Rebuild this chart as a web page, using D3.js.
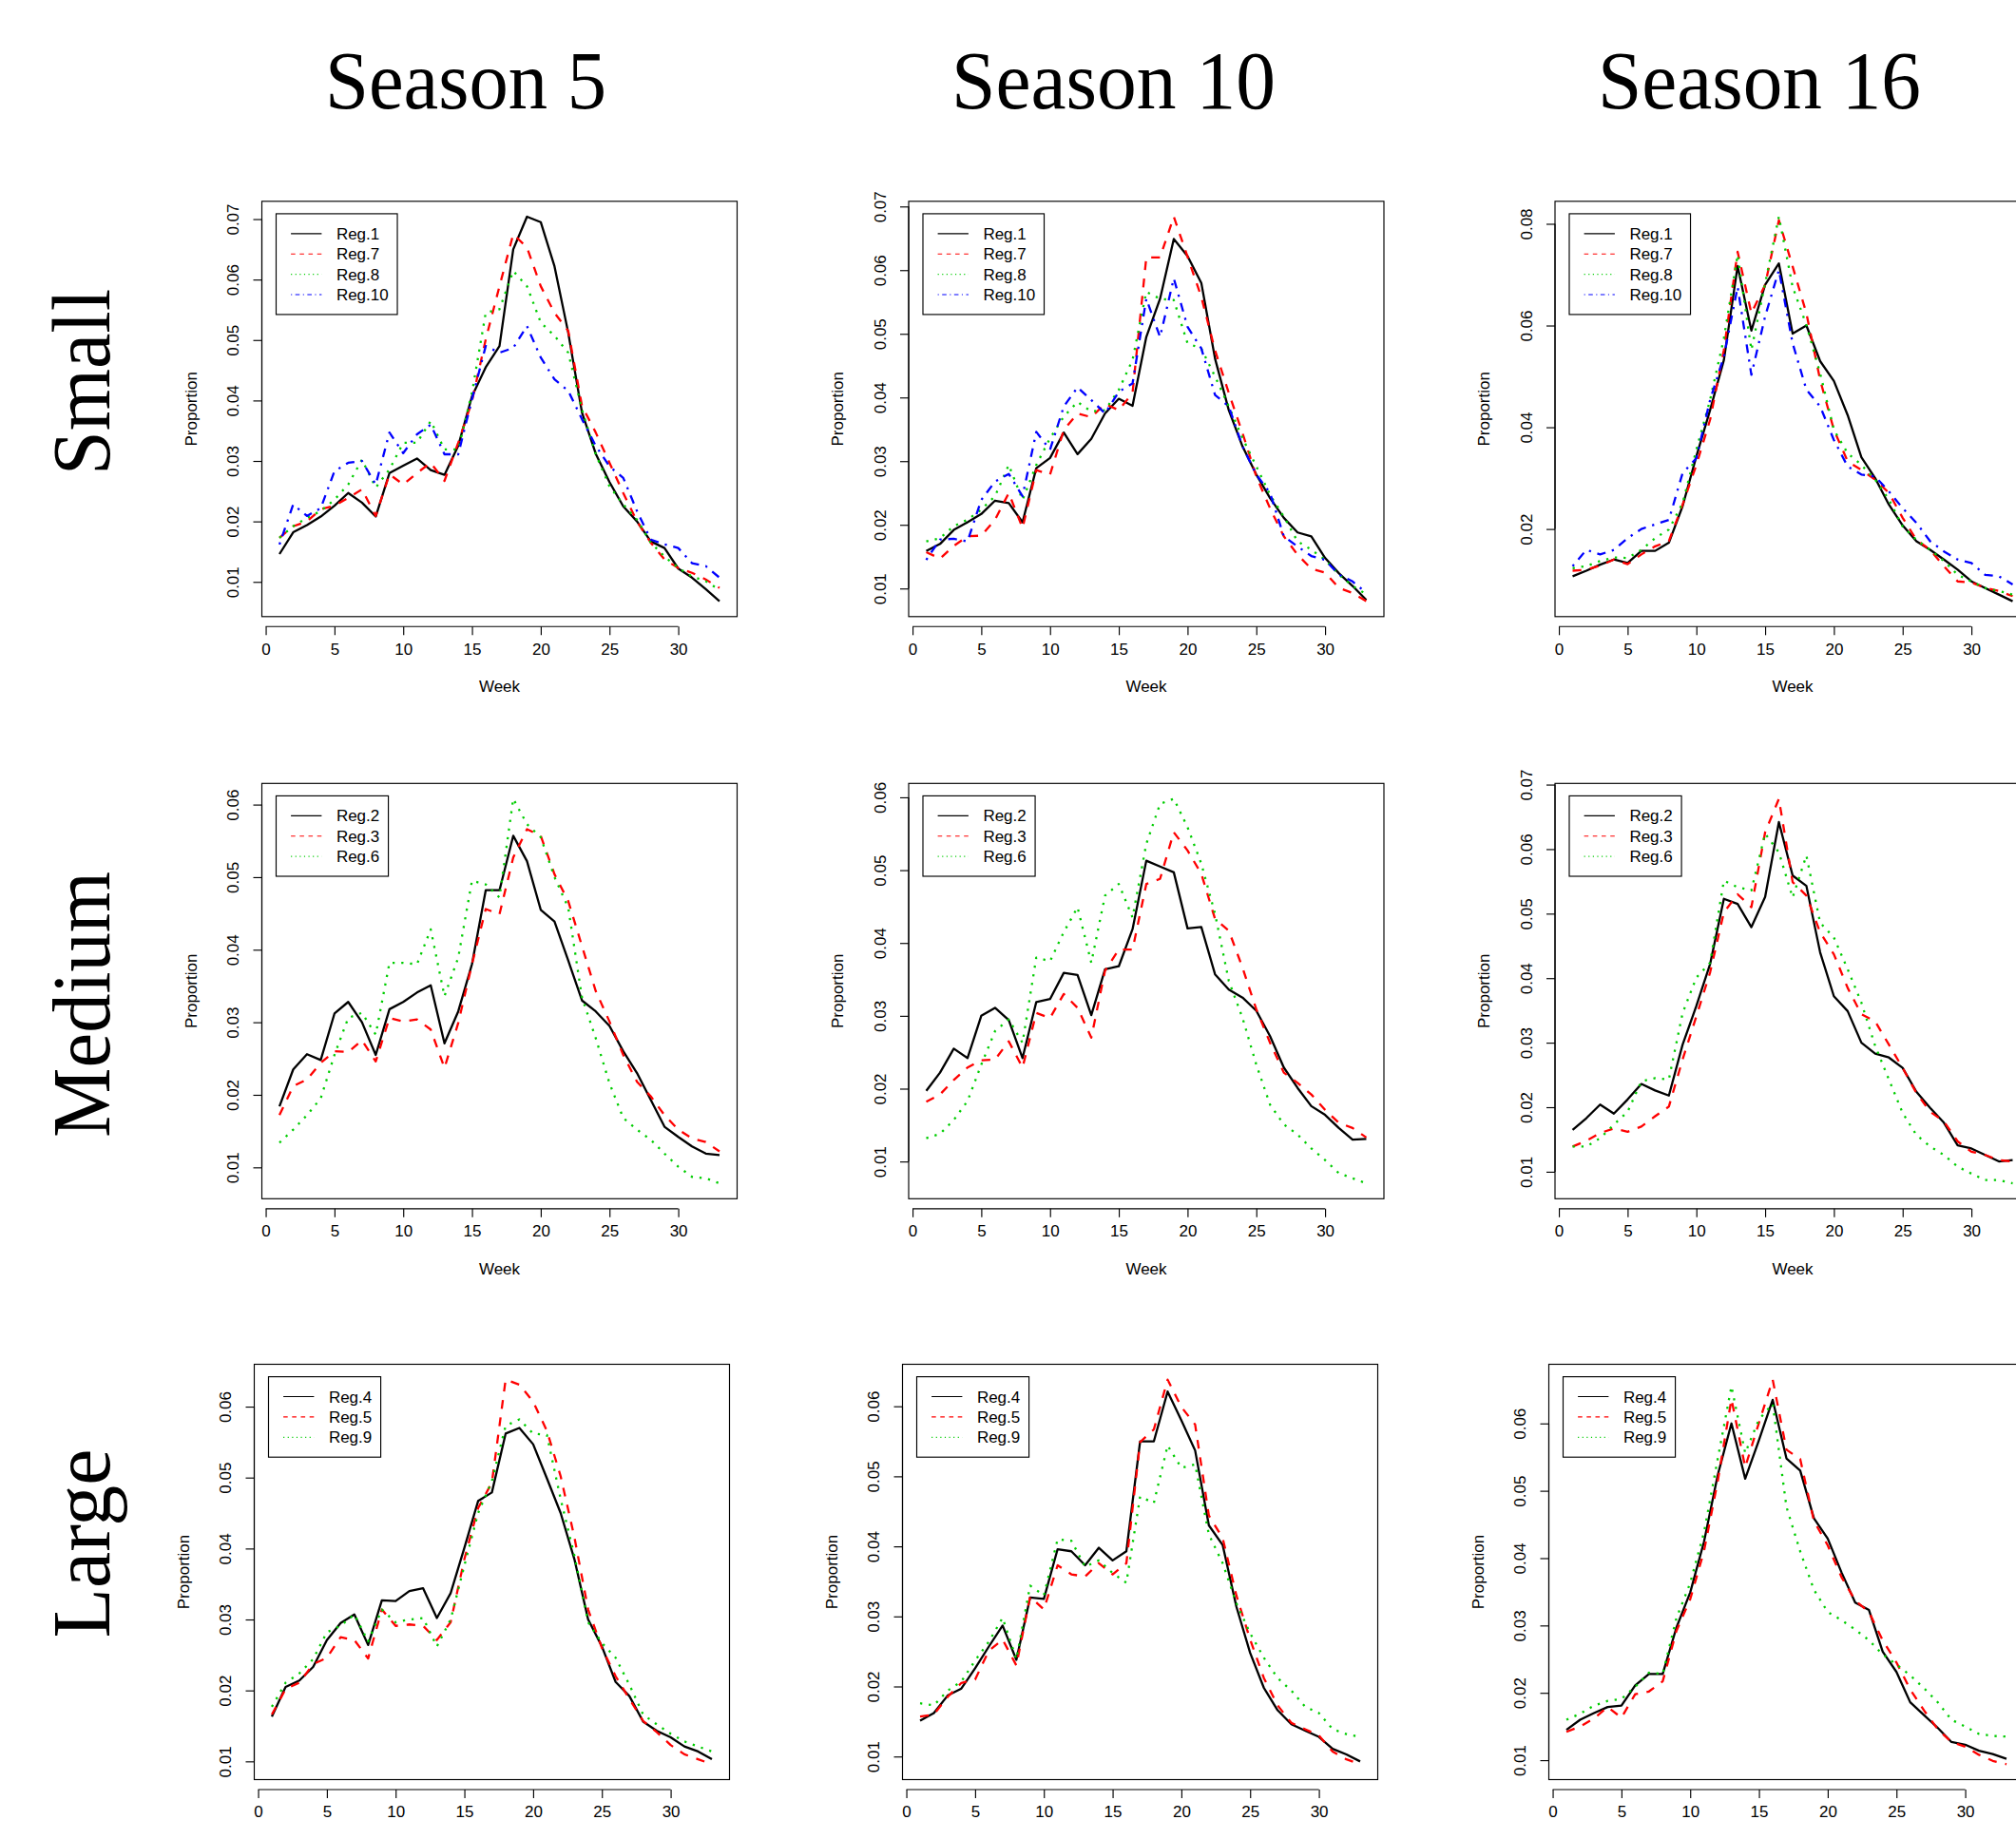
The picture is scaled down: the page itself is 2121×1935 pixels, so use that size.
<!DOCTYPE html>
<html><head><meta charset="utf-8">
<script src="https://cdn.jsdelivr.net/npm/d3@7"></script>
<style>
html,body{margin:0;padding:0;background:#fff;overflow:hidden;}
svg{display:block;}
</style></head><body>
<script>
// ---------------- DATA ----------------
const weeks = d3.range(1, 34);
const xTicks = [0, 5, 10, 15, 20, 25, 30];
const seasons = ["Season 5", "Season 10", "Season 16"];
const sizes = ["Small", "Medium", "Large"];
const regionsSmall = ["Reg.1", "Reg.7", "Reg.8", "Reg.10"];
const regionsMedium = ["Reg.2", "Reg.3", "Reg.6"];
const regionsLarge = ["Reg.4", "Reg.5", "Reg.9"];
const yTicks7 = [0.01, 0.02, 0.03, 0.04, 0.05, 0.06, 0.07];
const yTicks6 = [0.01, 0.02, 0.03, 0.04, 0.05, 0.06];
const yTicksEven = [0.02, 0.04, 0.06, 0.08];

// Season 5, Small
const s5_reg1 = [0.0146,0.0182,0.0194,0.0208,0.0226,0.0247,0.0231,0.0208,0.0280,0.0292,0.0304,0.0285,0.0277,0.0325,0.0407,0.0455,0.0490,0.0650,0.0704,0.0695,0.0622,0.0512,0.0380,0.0312,0.0265,0.0225,0.0200,0.0167,0.0156,0.0122,0.0107,0.0088,0.0068];
const s5_reg7 = [0.0173,0.0192,0.0200,0.0220,0.0226,0.0239,0.0253,0.0209,0.0278,0.0261,0.0280,0.0297,0.0267,0.0330,0.0399,0.0501,0.0589,0.0675,0.0653,0.0589,0.0545,0.0515,0.0391,0.0347,0.0297,0.0247,0.0200,0.0165,0.0137,0.0123,0.0115,0.0104,0.0090];
const s5_reg8 = [0.0173,0.0192,0.0206,0.0217,0.0236,0.0261,0.0302,0.0256,0.0286,0.0330,0.0330,0.0366,0.0319,0.0319,0.0413,0.0545,0.0551,0.0614,0.0589,0.0529,0.0507,0.0479,0.0385,0.0311,0.0258,0.0228,0.0203,0.0165,0.0142,0.0123,0.0109,0.0101,0.0087];
const s5_reg10 = [0.0162,0.0228,0.0209,0.0222,0.0283,0.0297,0.0300,0.0261,0.0347,0.0313,0.0344,0.0360,0.0311,0.0311,0.0402,0.0490,0.0479,0.0487,0.0523,0.0471,0.0435,0.0416,0.0369,0.0325,0.0291,0.0272,0.0217,0.0170,0.0162,0.0156,0.0131,0.0126,0.0107];
// Season 10, Small
const s10_reg1 = [0.0159,0.0170,0.0192,0.0204,0.0217,0.0238,0.0234,0.0204,0.0289,0.0305,0.0345,0.0311,0.0335,0.0375,0.0398,0.0387,0.0495,0.0555,0.0649,0.0622,0.0580,0.0461,0.0380,0.0323,0.0279,0.0242,0.0211,0.0188,0.0182,0.0148,0.0124,0.0104,0.0082];
const s10_reg7 = [0.0157,0.0147,0.0167,0.0182,0.0183,0.0208,0.0250,0.0195,0.0286,0.0279,0.0349,0.0375,0.0369,0.0390,0.0380,0.0407,0.0620,0.0620,0.0684,0.0621,0.0558,0.0474,0.0407,0.0344,0.0276,0.0226,0.0182,0.0153,0.0131,0.0125,0.0101,0.0093,0.0080];
const s10_reg8 = [0.0174,0.0179,0.0198,0.0208,0.0224,0.0245,0.0294,0.0239,0.0294,0.0336,0.0370,0.0393,0.0378,0.0380,0.0412,0.0459,0.0566,0.0555,0.0553,0.0485,0.0477,0.0433,0.0386,0.0336,0.0292,0.0247,0.0213,0.0174,0.0161,0.0145,0.0122,0.0104,0.0091];
const s10_reg10 = [0.0145,0.0177,0.0178,0.0174,0.0239,0.0268,0.0280,0.0245,0.0346,0.0318,0.0386,0.0416,0.0396,0.0375,0.0409,0.0422,0.0555,0.0495,0.0587,0.0511,0.0477,0.0404,0.0386,0.0323,0.0279,0.0250,0.0182,0.0166,0.0151,0.0145,0.0122,0.0111,0.0093];
// Season 16, Small
const s16_reg1 = [0.0107,0.0118,0.0130,0.0140,0.0133,0.0157,0.0157,0.0173,0.0245,0.0343,0.0434,0.0532,0.0717,0.0590,0.0680,0.0722,0.0584,0.0600,0.0530,0.0491,0.0424,0.0341,0.0300,0.0248,0.0207,0.0176,0.0159,0.0140,0.0120,0.0097,0.0084,0.0071,0.0058];
const s16_reg7 = [0.0118,0.0120,0.0128,0.0140,0.0131,0.0150,0.0166,0.0176,0.0248,0.0326,0.0415,0.0552,0.0745,0.0624,0.0680,0.0807,0.0716,0.0624,0.0493,0.0395,0.0333,0.0316,0.0297,0.0271,0.0222,0.0179,0.0159,0.0127,0.0097,0.0095,0.0084,0.0078,0.0068];
const s16_reg8 = [0.0123,0.0127,0.0137,0.0144,0.0143,0.0159,0.0182,0.0199,0.0251,0.0356,0.0454,0.0575,0.0739,0.0552,0.0683,0.0814,0.0676,0.0601,0.0506,0.0395,0.0349,0.0326,0.0297,0.0258,0.0205,0.0179,0.0159,0.0137,0.0110,0.0097,0.0084,0.0078,0.0071];
const s16_reg10 = [0.0127,0.0159,0.0150,0.0159,0.0182,0.0200,0.0209,0.0218,0.0310,0.0339,0.0454,0.0539,0.0676,0.0503,0.0618,0.0709,0.0565,0.0474,0.0441,0.0375,0.0323,0.0307,0.0303,0.0274,0.0241,0.0212,0.0176,0.0156,0.0140,0.0133,0.0110,0.0107,0.0091];
// Season 5, Medium
const s5_reg2 = [0.0184,0.0235,0.0256,0.0248,0.0312,0.0328,0.0300,0.0255,0.0318,0.0328,0.0341,0.0351,0.0271,0.0315,0.0380,0.0482,0.0482,0.0557,0.0522,0.0455,0.0439,0.0385,0.0330,0.0315,0.0295,0.0260,0.0230,0.0193,0.0156,0.0142,0.0129,0.0119,0.0117];
const s5_reg3 = [0.0172,0.0212,0.0221,0.0244,0.0260,0.0259,0.0275,0.0246,0.0306,0.0301,0.0304,0.0290,0.0237,0.0299,0.0380,0.0456,0.0449,0.0527,0.0566,0.0557,0.0504,0.0467,0.0405,0.0343,0.0301,0.0255,0.0218,0.0198,0.0172,0.0152,0.0140,0.0135,0.0122];
const s5_reg6 = [0.0134,0.0152,0.0172,0.0195,0.0255,0.0306,0.0313,0.0283,0.0382,0.0382,0.0380,0.0428,0.0336,0.0389,0.0495,0.0490,0.0472,0.0608,0.0573,0.0555,0.0500,0.0458,0.0334,0.0278,0.0216,0.0168,0.0152,0.0138,0.0119,0.0101,0.0087,0.0085,0.0078];
// Season 10, Medium
const s10_reg2 = [0.0197,0.0222,0.0255,0.0242,0.0300,0.0311,0.0294,0.0242,0.0319,0.0323,0.0359,0.0356,0.0301,0.0364,0.0368,0.0419,0.0513,0.0505,0.0497,0.0420,0.0422,0.0357,0.0336,0.0325,0.0307,0.0272,0.0229,0.0201,0.0176,0.0164,0.0146,0.0130,0.0131];
const s10_reg3 = [0.0182,0.0192,0.0212,0.0229,0.0239,0.0240,0.0265,0.0229,0.0304,0.0297,0.0330,0.0311,0.0270,0.0362,0.0391,0.0391,0.0481,0.0488,0.0552,0.0527,0.0495,0.0433,0.0417,0.0366,0.0309,0.0263,0.0222,0.0208,0.0192,0.0171,0.0153,0.0146,0.0133];
const s10_reg6 = [0.0132,0.0138,0.0157,0.0183,0.0233,0.0279,0.0295,0.0263,0.0380,0.0375,0.0415,0.0449,0.0373,0.0465,0.0481,0.0435,0.0536,0.0591,0.0598,0.0559,0.0509,0.0440,0.0348,0.0297,0.0233,0.0178,0.0151,0.0137,0.0118,0.0102,0.0084,0.0077,0.0070];
// Season 16, Medium
const s16_reg2 = [0.0165,0.0183,0.0204,0.0190,0.0212,0.0236,0.0226,0.0218,0.0297,0.0357,0.0422,0.0523,0.0515,0.0479,0.0526,0.0642,0.0559,0.0543,0.0440,0.0372,0.0349,0.0300,0.0283,0.0277,0.0261,0.0224,0.0199,0.0176,0.0141,0.0136,0.0126,0.0116,0.0118];
const s16_reg3 = [0.0139,0.0148,0.0160,0.0167,0.0162,0.0170,0.0186,0.0201,0.0274,0.0341,0.0409,0.0502,0.0530,0.0510,0.0626,0.0678,0.0549,0.0528,0.0471,0.0437,0.0385,0.0344,0.0333,0.0297,0.0261,0.0222,0.0193,0.0178,0.0147,0.0131,0.0126,0.0118,0.0116];
const s16_reg6 = [0.0139,0.0139,0.0152,0.0173,0.0193,0.0240,0.0245,0.0243,0.0346,0.0401,0.0424,0.0551,0.0541,0.0536,0.0624,0.0595,0.0525,0.0590,0.0486,0.0463,0.0414,0.0362,0.0295,0.0243,0.0191,0.0157,0.0139,0.0126,0.0108,0.0097,0.0087,0.0087,0.0082];
// Season 5, Large
const s5_reg4 = [0.0163,0.0205,0.0214,0.0233,0.0271,0.0295,0.0307,0.0264,0.0327,0.0326,0.0340,0.0344,0.0302,0.0337,0.0401,0.0467,0.0479,0.0562,0.0570,0.0547,0.0499,0.0450,0.0385,0.0300,0.0262,0.0212,0.0192,0.0156,0.0143,0.0134,0.0121,0.0114,0.0103];
const s5_reg5 = [0.0166,0.0202,0.0211,0.0237,0.0246,0.0275,0.0271,0.0245,0.0314,0.0291,0.0293,0.0291,0.0271,0.0296,0.0385,0.0457,0.0493,0.0638,0.0631,0.0607,0.0566,0.0502,0.0416,0.0314,0.0260,0.0220,0.0188,0.0157,0.0141,0.0123,0.0110,0.0103,0.0096];
const s5_reg9 = [0.0177,0.0211,0.0224,0.0244,0.0282,0.0291,0.0307,0.0269,0.0314,0.0296,0.0300,0.0302,0.0262,0.0300,0.0376,0.0450,0.0495,0.0573,0.0582,0.0562,0.0560,0.0470,0.0390,0.0296,0.0267,0.0246,0.0208,0.0166,0.0152,0.0139,0.0128,0.0121,0.0114];
// Season 10, Large
const s10_reg4 = [0.0151,0.0162,0.0187,0.0197,0.0226,0.0257,0.0287,0.0238,0.0327,0.0325,0.0396,0.0393,0.0373,0.0398,0.0380,0.0393,0.0550,0.0550,0.0621,0.0580,0.0537,0.0430,0.0402,0.0314,0.0248,0.0198,0.0166,0.0146,0.0137,0.0128,0.0111,0.0103,0.0093];
const s10_reg5 = [0.0157,0.0160,0.0185,0.0205,0.0210,0.0251,0.0267,0.0230,0.0328,0.0310,0.0373,0.0360,0.0357,0.0376,0.0360,0.0376,0.0549,0.0567,0.0638,0.0599,0.0574,0.0444,0.0412,0.0330,0.0267,0.0212,0.0173,0.0148,0.0139,0.0130,0.0107,0.0096,0.0089];
const s10_reg9 = [0.0176,0.0173,0.0194,0.0207,0.0237,0.0264,0.0298,0.0239,0.0344,0.0330,0.0410,0.0408,0.0371,0.0380,0.0362,0.0348,0.0471,0.0462,0.0544,0.0512,0.0517,0.0417,0.0376,0.0319,0.0276,0.0241,0.0212,0.0194,0.0171,0.0162,0.0139,0.0132,0.0128];
// Season 16, Large
const s16_reg4 = [0.0145,0.0160,0.0170,0.0179,0.0181,0.0211,0.0228,0.0228,0.0297,0.0349,0.0424,0.0523,0.0600,0.0518,0.0575,0.0635,0.0548,0.0530,0.0459,0.0429,0.0379,0.0334,0.0323,0.0261,0.0231,0.0186,0.0167,0.0148,0.0127,0.0123,0.0114,0.0109,0.0102];
const s16_reg5 = [0.0142,0.0150,0.0162,0.0179,0.0163,0.0198,0.0202,0.0217,0.0292,0.0339,0.0410,0.0514,0.0636,0.0535,0.0601,0.0665,0.0561,0.0547,0.0455,0.0419,0.0372,0.0337,0.0320,0.0278,0.0245,0.0205,0.0174,0.0146,0.0127,0.0120,0.0108,0.0099,0.0094];
const s16_reg9 = [0.0160,0.0169,0.0181,0.0188,0.0191,0.0209,0.0230,0.0228,0.0311,0.0363,0.0438,0.0547,0.0655,0.0556,0.0606,0.0629,0.0476,0.0410,0.0353,0.0320,0.0308,0.0294,0.0278,0.0257,0.0242,0.0226,0.0207,0.0186,0.0160,0.0150,0.0139,0.0136,0.0135];

// ---------------- PANELS (built from arrays) ----------------
const panelSeries = [
  [[s5_reg1, s5_reg7, s5_reg8, s5_reg10], [s10_reg1, s10_reg7, s10_reg8, s10_reg10], [s16_reg1, s16_reg7, s16_reg8, s16_reg10]],
  [[s5_reg2, s5_reg3, s5_reg6], [s10_reg2, s10_reg3, s10_reg6], [s16_reg2, s16_reg3, s16_reg6]],
  [[s5_reg4, s5_reg5, s5_reg9], [s10_reg4, s10_reg5, s10_reg9], [s16_reg4, s16_reg5, s16_reg9]]
];
const rowRegions = [regionsSmall, regionsMedium, regionsLarge];
const panelTicks = [
  [yTicks7, yTicks7, yTicksEven],
  [yTicks6, yTicks6, yTicks7],
  [yTicks6, yTicks6, yTicks6]
];

// ---------------- LAYOUT ----------------
const W = 2121, H = 1935;
const rowTop = [211.8, 824.3, 1435.5];
const colLeft = [[275.5, 956, 1636], [275.5, 956, 1636], [267.5, 949.5, 1629.5]];
const boxW = 500, boxH = 437;
const sans = "'Liberation Sans', Arial, Helvetica, sans-serif";
const serif = "'Liberation Serif', 'Times New Roman', serif";
const fs = 17;

const styles = [
  {color: "#000000", dash: null, ldash: null},
  {color: "#FF0000", dash: "9.2,9.2", ldash: "4.6,4.6"},
  {color: "#00CD00", dash: "2.3,6.9", ldash: "1.15,3.45"},
  {color: "#0000FF", dash: "2.3,6.9,9.2,6.9", ldash: "1.15,3.45,4.6,3.45"}
];

const svg = d3.select("body").append("svg").attr("width", W).attr("height", H);
svg.append("rect").attr("width", W).attr("height", H).attr("fill", "#fff");

// Column titles
const titleLayout = [{x: 490, len: 296}, {x: 1171.5, len: 341}, {x: 1851, len: 340}];
seasons.forEach((t, i) => {
  svg.append("text").attr("x", titleLayout[i].x).attr("y", 114)
    .attr("text-anchor", "middle").attr("font-family", serif).attr("font-size", 86)
    .attr("textLength", titleLayout[i].len).attr("lengthAdjust", "spacingAndGlyphs")
    .text(t);
});
// Row labels
const rowLayout = [{y: 402, len: 196}, {y: 1057, len: 280}, {y: 1624, len: 199}];
sizes.forEach((t, i) => {
  svg.append("text").attr("transform", `translate(115,${rowLayout[i].y}) rotate(-90)`)
    .attr("text-anchor", "middle").attr("font-family", serif).attr("font-size", 86)
    .attr("textLength", rowLayout[i].len).attr("lengthAdjust", "spacingAndGlyphs")
    .text(t);
});

for (let r = 0; r < 3; r++) {
  for (let c = 0; c < 3; c++) {
    const left = colLeft[r][c], top = rowTop[r];
    const seriesVals = panelSeries[r][c];
    const names = rowRegions[r];
    const ticks = panelTicks[r][c];
    const g = svg.append("g");

    const x = d3.scaleLinear().domain([1 - 0.04 * 32, 33 + 0.04 * 32]).range([left, left + boxW]);
    const all = seriesVals.flat();
    const [mn, mx] = d3.extent(all);
    const pad = (mx - mn) * 0.04;
    const y = d3.scaleLinear().domain([mn - pad, mx + pad]).range([top + boxH, top]);

    // box
    g.append("rect").attr("x", left).attr("y", top).attr("width", boxW).attr("height", boxH)
      .attr("fill", "none").attr("stroke", "#000").attr("stroke-width", 1.15);

    // x axis
    const xa = g.append("g").attr("transform", `translate(0,${top + boxH + 10.5})`)
      .call(d3.axisBottom(x).tickValues(xTicks).tickSize(9).tickPadding(8.4).tickFormat(d3.format("d")));
    xa.select(".domain").remove();
    xa.append("line").attr("x1", x(xTicks[0])).attr("x2", x(xTicks[xTicks.length - 1]))
      .attr("stroke", "#000").attr("stroke-width", 1.15);
    xa.selectAll(".tick line").attr("stroke-width", 1.15);
    xa.attr("font-family", sans).attr("font-size", fs);
    xa.selectAll(".tick text").attr("fill", "#000");

    // y axis
    const ya = g.append("g").attr("transform", `translate(${left},0)`)
      .call(d3.axisLeft(y).tickValues(ticks).tickSize(9).tickFormat(d3.format(".2f")));
    ya.select(".domain").remove();
    ya.append("line").attr("y1", y(ticks[0])).attr("y2", y(ticks[ticks.length - 1]))
      .attr("stroke", "#000").attr("stroke-width", 1.15);
    ya.selectAll(".tick line").attr("stroke-width", 1.15);
    ya.attr("font-family", sans).attr("font-size", fs);
    ya.selectAll(".tick text").attr("x", 0).attr("y", 0).attr("dy", null)
      .attr("transform", "translate(-24.5,0) rotate(-90)").attr("text-anchor", "middle").attr("fill", "#000");

    // axis titles
    if (r < 2) {
      g.append("text").attr("x", left + boxW / 2).attr("y", top + boxH + 79.5)
        .attr("text-anchor", "middle").attr("font-family", sans).attr("font-size", fs).text("Week");
    }
    g.append("text").attr("transform", `translate(${left - 69},${top + boxH / 2}) rotate(-90)`)
      .attr("text-anchor", "middle").attr("font-family", sans).attr("font-size", fs).text("Proportion");

    // lines
    const line = d3.line().x((d, i) => x(weeks[i])).y(d => y(d));
    seriesVals.forEach((vals, i) => {
      g.append("path").datum(vals).attr("d", line)
        .attr("fill", "none").attr("stroke", styles[i].color).attr("stroke-width", 2.3)
        .attr("stroke-linejoin", "round").attr("stroke-linecap", "butt")
        .attr("stroke-dasharray", styles[i].dash);
    });

    // legend
    const lx = left + 0.03 * boxW, ly = top + 0.03 * boxH;
    const rowH = 21.4;
    const lg = g.append("g");
    const lrect = lg.append("rect");
    let maxW = 0;
    names.forEach((nm, i) => {
      const cy = ly + 10.2 + rowH * (i + 0.5);
      lg.append("line").attr("x1", lx + 15.6).attr("x2", lx + 47.9).attr("y1", cy).attr("y2", cy)
        .attr("stroke", styles[i].color).attr("stroke-width", 1.15).attr("stroke-dasharray", styles[i].ldash);
      const t = lg.append("text").attr("x", lx + 63.4).attr("y", cy + 0.36 * fs)
        .attr("font-family", sans).attr("font-size", fs).text(nm);
      maxW = Math.max(maxW, t.node().getComputedTextLength());
    });
    lrect.attr("x", lx).attr("y", ly).attr("width", 63.4 + maxW + 9.3).attr("height", names.length * rowH + 20.4)
      .attr("fill", "#fff").attr("stroke", "#000").attr("stroke-width", 1.15);
  }
}
</script>
</body></html>
